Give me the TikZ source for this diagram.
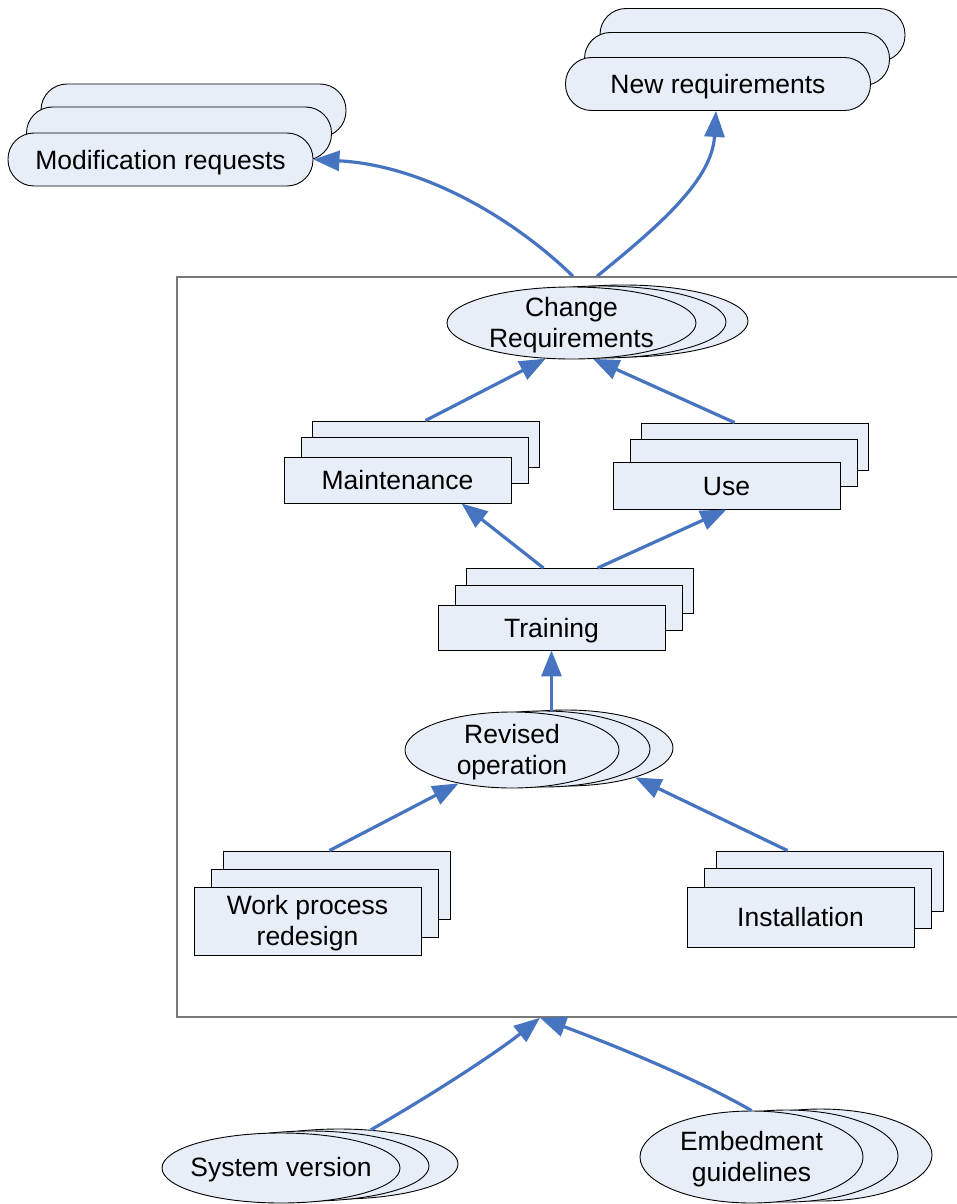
\documentclass[tikz,border=0pt]{standalone}
\usepackage{fontspec}
\setmainfont{Liberation Sans}
\usetikzlibrary{shapes.geometric,arrows.meta}
\definecolor{boxfill}{RGB}{232,238,248}
\definecolor{flowblue}{RGB}{70,116,193}
\definecolor{framegray}{RGB}{120,120,120}

\tikzset{
  pill/.style={draw, fill=boxfill, line width=0.9pt, rounded corners=26pt,
    minimum width=305pt, minimum height=53pt, inner sep=0pt,
    text height=19.5pt, text depth=0pt},
  card/.style={draw, fill=boxfill, line width=0.9pt,
    minimum width=227pt, inner sep=0pt, text height=19.5pt, text depth=0pt},
  oval/.style={ellipse, draw, fill=boxfill, line width=0.9pt, inner sep=0pt},
  inside/.style={align=center, yshift=-2.5pt},
  frame/.style={draw=framegray, line width=1.5pt,
    minimum width=813pt, minimum height=740pt},
  flow/.style={draw=flowblue, line width=3.2pt,
    -{Triangle[length=26pt,width=20pt]}},
}

\begin{document}
\begin{tikzpicture}[x=1pt, y=-1pt, font=\fontsize{26.5}{31}\selectfont]
\useasboundingbox (0,0) rectangle (957,1204);

% enclosing frame, open to the right
\node[frame] (frame) at (583.5,647) {};

% outputs
\node[pill] (mrB) at (193.5,110.5) {};
\node[pill] (mrM) at (179,133.5) {};
\node[pill] (mr)  at (160.5,159.5) {Modification requests};

\node[pill] (nrB) at (752.5,35) {};
\node[pill] (nrM) at (737,59) {};
\node[pill] (nr)  at (718,84) {New requirements};

% change requirements
\node[oval, minimum width=249pt, minimum height=72pt] (crB) at (623.5,321) {};
\node[oval, minimum width=249pt, minimum height=72pt] (crM) at (601.5,322) {};
\node[oval, minimum width=249pt, minimum height=72pt,
  label={[inside]center:Change\\Requirements}] (cr) at (571.5,323) {};

% maintenance and use
\node[card, minimum height=46pt] (mtB) at (425.5,444) {};
\node[card, minimum height=46pt] (mtM) at (414.5,460) {};
\node[card, minimum height=46pt] (mt)  at (397.5,480) {Maintenance};

\node[card, minimum height=47pt] (useB) at (754.5,446.5) {};
\node[card, minimum height=47pt] (useM) at (743.5,462.5) {};
\node[card, minimum height=47pt] (use)  at (726.5,485.5) {Use};

% training
\node[card, minimum height=45pt] (trB) at (579.5,591) {};
\node[card, minimum height=45pt] (trM) at (568.5,608) {};
\node[card, minimum height=45pt] (tr)  at (551.5,627.5) {Training};

% revised operation
\node[oval, minimum width=214pt, minimum height=76pt] (roB) at (566,748) {};
\node[oval, minimum width=214pt, minimum height=76pt] (roM) at (543,749) {};
\node[oval, minimum width=214pt, minimum height=76pt,
  label={[inside]center:Revised\\operation}] (ro) at (512,750) {};

% work process redesign and installation
\node[card, minimum height=68pt] (wpB) at (336.5,885) {};
\node[card, minimum height=68pt] (wpM) at (324.5,903) {};
\node[card, minimum height=68pt,
  label={[inside]center:Work process\\redesign}] (wp) at (307.5,921) {};

\node[card, minimum height=60pt] (instB) at (829.5,881) {};
\node[card, minimum height=60pt] (instM) at (817.5,898) {};
\node[card, minimum height=60pt] (inst)  at (800.5,917) {Installation};

% inputs
\node[oval, minimum width=238pt, minimum height=70pt] (svB) at (339,1164) {};
\node[oval, minimum width=238pt, minimum height=70pt] (svM) at (310,1166) {};
\node[oval, minimum width=238pt, minimum height=70pt,
  label={[inside, yshift=1pt]center:System version}] (sv) at (281,1168) {};

\node[oval, minimum width=223pt, minimum height=92pt] (emB) at (820.5,1155) {};
\node[oval, minimum width=223pt, minimum height=92pt] (emM) at (786.5,1156) {};
\node[oval, minimum width=223pt, minimum height=92pt,
  label={[inside]center:Embedment\\guidelines}] (em) at (751.5,1157) {};

% connectors
\draw[flow] ([xshift=-10.5pt]frame.north) .. controls (510,215) and (420,165) .. (mr.east);
\draw[flow] ([xshift=13.5pt]frame.north) .. controls (660,225) and (712,180) .. ([xshift=-2pt]nr.south);
\draw[flow] (mtB.north) -- (cr.234);
\draw[flow] ([xshift=-20pt]useB.north) -- (cr.-59);
\draw[flow] ([xshift=-36pt]trB.north) -- ([xshift=64pt]mt.south);
\draw[flow] ([xshift=18pt]trB.north) -- (use.south);
\draw[flow] (roM.north -| tr.south) -- (tr.south);
\draw[flow] ([xshift=-7pt]wpB.north) -- (ro.212);
\draw[flow] ([xshift=-42pt]instB.north) -- (roB.-23);
\draw[flow] (svB.47) .. controls (440,1090) and (500,1050) .. ([xshift=-43.5pt]frame.south);
\draw[flow] (em.north) .. controls (690,1075) and (600,1040) .. ([xshift=-43.5pt]frame.south);
\end{tikzpicture}
\end{document}
